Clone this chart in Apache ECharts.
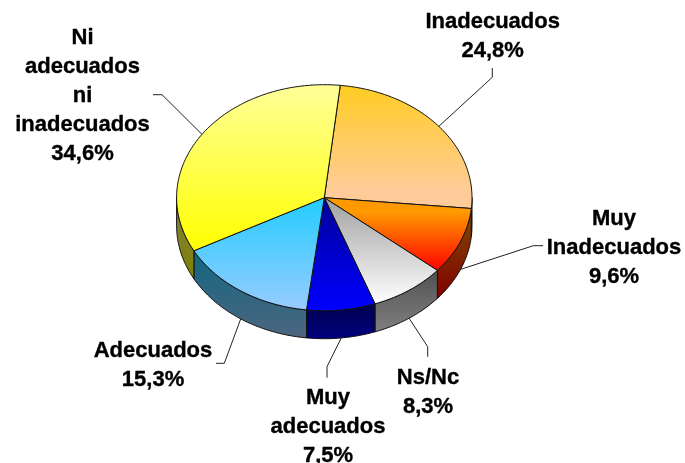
<!DOCTYPE html>
<html>
<head>
<meta charset="utf-8">
<style>html,body{margin:0;padding:0;background:#fff}#c{width:685px;height:463px}</style>
<script src="https://cdn.jsdelivr.net/npm/echarts@6/dist/echarts.min.js"></script>
</head>
<body>
<div id="c"></div>
<script>
// --- data ---
const categories = ['Inadecuados', 'Muy\nInadecuados', 'Ns/Nc', 'Muy\nadecuados', 'Adecuados', 'Ni\nadecuados\nni\ninadecuados'];
const values = [24.8, 9.6, 8.3, 7.5, 15.3, 34.6];
const valueLabels = ['24,8%', '9,6%', '8,3%', '7,5%', '15,3%', '34,6%'];

// --- styles ---
const topStops = [['#FFCC22', '#FFCC99'], ['#FF9900', '#FF0000'], ['#A0A0A0', '#FFFFFF'], ['#000099', '#0000FF'], ['#22CCFF', '#99CCFF'], ['#FFFF99', '#FFFF00']];
const topOffsets = [[0, 0.85], [0.2, 1], [0, 1], [0, 1], [0, 1], [0, 1]];
const sideStops = [['#806611', '#80664D'], ['#804D00', '#800000'], ['#505050', '#808080'], ['#00004D', '#000080'], ['#116680', '#4D6680'], ['#80804D', '#808000']];

// --- layout ---
const CX = 324.3, CY = 197.7, RX = 147.7, RY = 113, DEPTH = 28, START = 6.2;
const labelCenters = [[492.7, 36.5], [614, 247.5], [428, 392], [328, 427], [153, 365], [82.5, 96]];
const labelLines = [[[492.3, 77.3], [492.3, 68]], [[533.3, 245.7], [543, 245.7]], [[427.7, 346.7], [427.7, 356.7]], [[327, 366.7], [327, 377.7]], [[224.3, 363.3], [216, 363.3]], [[162, 94.7], [153, 94.7]]];

// values are percentages, so 1 unit = 3.6 degrees; the rounded values add up to 100.1
function rangeOf(i) {
  let s = START;
  for (let k = 0; k < i; k++) s += values[k] * 3.6;
  return [s, Math.min(s + values[i] * 3.6, START + 360)];
}
function rim(deg, dz) {
  const t = deg * Math.PI / 180;
  return [CX + RX * Math.sin(t), CY - RY * Math.cos(t) + (dz || 0)];
}
function arc(a, b, dz) {
  const pts = [], n = Math.max(2, Math.ceil(Math.abs(b - a)));
  for (let k = 0; k <= n; k++) pts.push(rim(a + (b - a) * k / n, dz));
  return pts;
}
function grad(st, off) {
  const o = off || [0, 1];
  return new echarts.graphic.LinearGradient(0, 0, 0, 1, [
    {offset: 0, color: st[0]}, {offset: o[0], color: st[0]},
    {offset: o[1], color: st[1]}, {offset: 1, color: st[1]}
  ]);
}
const seriesData = values.map((v, i) => [v, i]);

function renderSide(params, api) {
  const i = api.value(1), r = rangeOf(i);
  const a = Math.max(r[0], 90), b = Math.min(r[1], 270);
  if (b <= a) return {type: 'group', children: []};
  const pts = arc(a, b, 0).concat(arc(b, a, DEPTH));
  return {type: 'polygon', shape: {points: pts}, style: {fill: grad(sideStops[i]), stroke: '#111', lineWidth: 1, lineJoin: 'round'}};
}
function renderTop(params, api) {
  const i = api.value(1), r = rangeOf(i);
  const pts = [[CX, CY]].concat(arc(r[0], r[1], 0));
  return {type: 'polygon', shape: {points: pts}, style: {fill: grad(topStops[i], topOffsets[i]), stroke: '#111', lineWidth: 1, lineJoin: 'round'}};
}
function renderLabel(params, api) {
  const i = api.value(1), r = rangeOf(i), mid = (r[0] + r[1]) / 2;
  const front = mid > 90 && mid < 270;
  const start = rim(mid, front ? DEPTH : 0);
  const c = labelCenters[i];
  return {type: 'group', children: [
    {type: 'polyline', shape: {points: [start].concat(labelLines[i])}, style: {fill: null, stroke: '#222', lineWidth: 1}},
    {type: 'text', x: c[0], y: c[1], style: {
      text: categories[i] + '\n' + valueLabels[i], fill: '#000', align: 'center', verticalAlign: 'middle',
      font: 'bold 22px "Liberation Sans", Arial, sans-serif', lineHeight: 29,
      stroke: '#000', lineWidth: 0.35
    }}
  ]};
}
const mk = (fn, z) => ({type: 'custom', coordinateSystem: 'none', renderItem: fn, data: seriesData, z: z, silent: true, animation: false, clip: false});

const chart = echarts.init(document.getElementById('c'), null, {renderer: 'canvas'});
chart.setOption({
  animation: false,
  backgroundColor: '#fff',
  series: [mk(renderSide, 1), mk(renderTop, 2), mk(renderLabel, 3)]
});
</script>
</body>
</html>
